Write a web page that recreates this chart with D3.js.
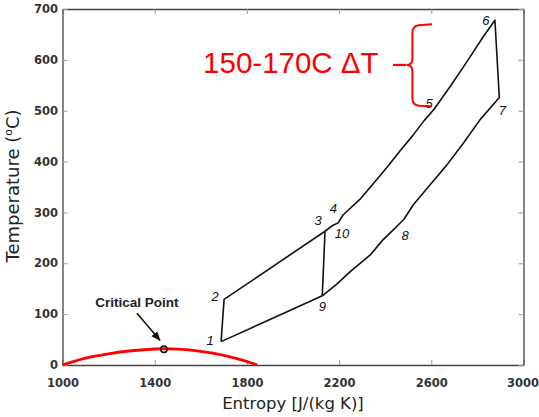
<!DOCTYPE html>
<html>
<head>
<meta charset="utf-8">
<script src="https://cdn.jsdelivr.net/npm/d3@7"></script>
<style>
  html, body { margin: 0; padding: 0; background: #fff; }
  svg { display: block; }
</style>
</head>
<body>
<svg id="chart" width="539" height="417"></svg>
<script>
// ---------------- DATA ----------------
const xTicks = [1000, 1400, 1800, 2200, 2600, 3000];
const yTicks = [0, 100, 200, 300, 400, 500, 600, 700];

// Cycle path 1-2-3-4-5-6-7-8-9-1 (entropy J/(kg K), temperature degC)
const cycleS = [1688, 1701, 2139, 2174, 2195, 2217, 2291, 2347, 2408, 2464, 2521, 2568, 2612,
                2681, 2754, 2826, 2876, 2895, 2811, 2739, 2667, 2594, 2522, 2482, 2443, 2390,
                2334, 2247, 2190, 2127, 1900, 1688];
const cycleT = [46, 129, 263, 275, 279, 295, 326, 356, 389, 421, 452, 480, 503,
                547, 596, 646, 678, 526, 482, 436, 393, 354, 315, 287, 269, 246,
                216, 183, 159, 136, 89.5, 46];

// Recompressor segment 9 -> 10
const recompS = [2127, 2139];
const recompT = [136, 263];

// State points
const stateNames = ["1", "2", "3", "4", "5", "6", "7", "8", "9", "10"];
const stateS = [1688, 1701, 2139, 2195, 2612, 2876, 2895, 2482, 2127, 2139];
const stateT = [46, 129, 263, 279, 503, 678, 526, 287, 136, 263];

// Saturation dome (red)
const domeS = [1000, 1100, 1200, 1300, 1400, 1440, 1500, 1600, 1700, 1780, 1845];
const domeT = [0, 13.5, 22, 28, 31.5, 32, 31.3, 27, 19, 9.5, 0];

// Critical point
const criticalS = [1440];
const criticalT = [31];

// Annotation text
const annotText = "150-170C \u0394T";

// ---------------- LAYOUT / STYLE ----------------
const margin = { left: 62.5, right: 539 - 523.5, top: 9, bottom: 417 - 365 };
const W = 539, H = 417;
const svg = d3.select("#chart");

const x = d3.scaleLinear().domain([1000, 3000]).range([margin.left, W - margin.right]);
const y = d3.scaleLinear().domain([0, 700]).range([H - margin.bottom, margin.top]);

const tickFont = "'DejaVu Sans', sans-serif";
const fmt = d3.format("d");

// Axes (inward ticks on all four sides)
function styleAxis(g, labels) {
  g.select(".domain").attr("stroke", "#444").attr("stroke-width", 1.3);
  g.selectAll(".tick line").attr("stroke", "#999").attr("stroke-width", 1);
  g.selectAll(".tick text")
    .attr("font-family", tickFont)
    .attr("font-weight", "bold")
    .attr("font-size", 11.5)
    .attr("fill", "#333")
    .style("display", labels ? null : "none");
}

svg.append("g")
  .attr("transform", `translate(0,${y(0)})`)
  .call(d3.axisBottom(x).tickValues(xTicks).tickFormat(fmt).tickSizeInner(-5).tickSizeOuter(0).tickPadding(21.5))
  .call(g => styleAxis(g, true))
  .call(g => g.selectAll(".tick text").attr("dy", "0"))
  .call(g => g.selectAll(".tick text").filter(d => d === 3000).attr("dx", -1));

svg.append("g")
  .attr("transform", `translate(0,${y(700)})`)
  .call(d3.axisTop(x).tickValues(xTicks).tickSizeInner(-5).tickSizeOuter(0))
  .call(g => styleAxis(g, false));

svg.append("g")
  .attr("transform", `translate(${x(1000)},0)`)
  .call(d3.axisLeft(y).tickValues(yTicks).tickFormat(fmt).tickSizeInner(-5).tickSizeOuter(0).tickPadding(4.5))
  .call(g => styleAxis(g, true));

svg.append("g")
  .attr("transform", `translate(${x(3000)},0)`)
  .call(d3.axisRight(y).tickValues(yTicks).tickSizeInner(-5).tickSizeOuter(0))
  .call(g => styleAxis(g, false));

// Axis titles
svg.append("text")
  .attr("x", 293).attr("y", 409)
  .attr("text-anchor", "middle")
  .attr("font-family", tickFont)
  .attr("font-size", 16.5)
  .attr("fill", "#222")
  .text("Entropy [J/(kg K)]");

const yl = svg.append("text")
  .attr("transform", "translate(19,186) rotate(-90)")
  .attr("text-anchor", "middle")
  .attr("font-family", tickFont)
  .attr("font-size", 18)
  .attr("fill", "#222");
yl.append("tspan").text("Temperature (");
yl.append("tspan").attr("font-size", 11).attr("dy", -7).text("o");
yl.append("tspan").attr("dy", 7).text("C)");

// Dome
const domeData = domeS.map((s, i) => [s, domeT[i]]);
svg.append("path")
  .datum(domeData)
  .attr("fill", "none")
  .attr("stroke", "#f00")
  .attr("stroke-width", 2.8)
  .attr("d", d3.line().x(d => x(d[0])).y(d => y(d[1])).curve(d3.curveMonotoneX));

// Critical point marker
svg.selectAll(".crit")
  .data(criticalS.map((s, i) => [s, criticalT[i]]))
  .join("circle")
  .attr("cx", d => x(d[0])).attr("cy", d => y(d[1]))
  .attr("r", 3.2)
  .attr("fill", "none")
  .attr("stroke", "#111")
  .attr("stroke-width", 1.5);

// Critical point label + arrow
svg.append("defs").append("marker")
  .attr("id", "ah").attr("viewBox", "0 0 10 10")
  .attr("refX", 9).attr("refY", 5)
  .attr("markerWidth", 6).attr("markerHeight", 6)
  .attr("orient", "auto")
  .append("path").attr("d", "M0,1 L10,5 L0,9 Z").attr("fill", "#111");

const cpx = x(criticalS[0]), cpy = y(criticalT[0]);
svg.append("line")
  .attr("x1", cpx - 27).attr("y1", cpy - 36)
  .attr("x2", cpx - 4).attr("y2", cpy - 9)
  .attr("stroke", "#111").attr("stroke-width", 1.6)
  .attr("marker-end", "url(#ah)");

svg.append("text")
  .attr("x", cpx - 27).attr("y", cpy - 42)
  .attr("text-anchor", "middle")
  .attr("font-family", "'Liberation Sans', Arial, sans-serif")
  .attr("font-weight", "bold")
  .attr("font-size", 13.5)
  .attr("fill", "#222")
  .text("Critical Point");

// Cycle
const line = d3.line().x(d => x(d[0])).y(d => y(d[1]));
svg.append("path")
  .datum(cycleS.map((s, i) => [s, cycleT[i]]))
  .attr("fill", "none")
  .attr("stroke", "#111")
  .attr("stroke-width", 1.6)
  .attr("stroke-linejoin", "round")
  .attr("d", line);

svg.append("path")
  .datum(recompS.map((s, i) => [s, recompT[i]]))
  .attr("fill", "none")
  .attr("stroke", "#111")
  .attr("stroke-width", 1.6)
  .attr("d", line);

// State labels
const labelOffsets = {
  "1": [-11, -1], "2": [-9, -3], "3": [-7, -11], "4": [-4.5, -14.5], "5": [-5, -6],
  "6": [-9, 0], "7": [3, 13.5], "8": [1, 16], "9": [0, 11], "10": [17, 2]
};
svg.selectAll(".state")
  .data(stateNames.map((n, i) => ({ n, s: stateS[i], t: stateT[i] })))
  .join("text")
  .attr("x", d => x(d.s) + labelOffsets[d.n][0])
  .attr("y", d => y(d.t) + labelOffsets[d.n][1])
  .attr("text-anchor", "middle")
  .attr("dominant-baseline", "central")
  .attr("font-family", "'Liberation Sans', Arial, sans-serif")
  .attr("font-style", "italic")
  .attr("font-size", 13)
  .attr("fill", "#111")
  .text(d => d.n);

// Red annotation: text + brace
const annot = { textS: 1610, textT: 575, dashS0: 2434, dashS1: 2490, midT: 590,
                spineS: 2518, tipS: 2603, topT: 670, botT: 509 };
svg.append("text")
  .attr("x", x(annot.textS)).attr("y", y(annot.textT))
  .attr("font-family", "'Liberation Sans', Arial, sans-serif")
  .attr("font-size", 29.5)
  .attr("fill", "#f00")
  .text(annotText);

const bx = x(annot.spineS), tx = x(annot.tipS);
const yt = y(annot.topT), yb = y(annot.botT), ym = y(annot.midT);
svg.append("line")
  .attr("x1", x(annot.dashS0)).attr("x2", x(annot.dashS1))
  .attr("y1", ym).attr("y2", ym)
  .attr("stroke", "#f00").attr("stroke-width", 2.2);
svg.append("path")
  .attr("fill", "none")
  .attr("stroke", "#f00")
  .attr("stroke-width", 2)
  .attr("d", `M${tx},${yt} L${bx + 6},${yt + 1} Q${bx},${yt + 2} ${bx},${yt + 9}
              L${bx},${ym - 6} Q${bx},${ym} ${bx - 6},${ym} Q${bx},${ym} ${bx},${ym + 6}
              L${bx},${yb - 8} Q${bx},${yb - 1} ${bx + 7},${yb - 0.5} L${tx},${yb}`);
</script>
</body>
</html>
